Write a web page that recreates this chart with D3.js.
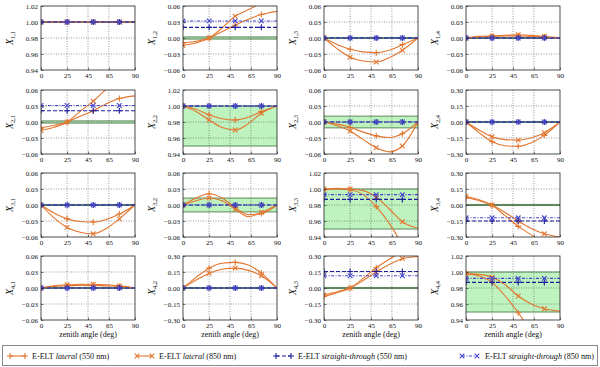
<!DOCTYPE html>
<html lang="en">
<head>
<meta charset="UTF-8">
<title>E-ELT Mueller matrix vs zenith angle</title>
<script src="https://cdn.jsdelivr.net/npm/d3@7"></script>
<style>
  body { margin: 0; background: #fff; }
  svg text { font-family: 'Liberation Serif', 'DejaVu Serif', serif; }
</style>
</head>
<body>
<svg id="chart" width="600" height="367"></svg>
<script>
const zenith = [0, 12.5, 25, 37.5, 50, 62.5, 75, 90];
const markerIdx = [0, 2, 4, 6];   // markers at 0, 25, 50, 75 deg
const xTicks = [0, 25, 45, 65, 90];

// matrix elements, row by row
const elements = ['1,1','1,2','1,3','1,4','2,1','2,2','2,3','2,4',
                  '3,1','3,2','3,3','3,4','4,1','4,2','4,3','4,4'];

const yRanges = [
  [0.94, 1.02], [-0.06, 0.06], [-0.06, 0.06], [-0.06, 0.06],
  [-0.06, 0.06], [0.94, 1.02], [-0.06, 0.06], [-0.30, 0.30],
  [-0.06, 0.06], [-0.06, 0.06], [0.94, 1.02], [-0.30, 0.30],
  [-0.06, 0.06], [-0.30, 0.30], [-0.30, 0.30], [0.94, 1.02]
];

// tolerance bands (green)
const bands = [
  [0.9995, 1.0005], [-0.002, 0.002], [-0.001, 0.001], [-0.001, 0.001],
  [-0.002, 0.002], [0.95, 1.0], [-0.011, 0.011], [-0.005, 0.005],
  [-0.001, 0.001], [-0.013, 0.013], [0.95, 1.0], [-0.005, 0.005],
  [-0.001, 0.001], [-0.005, 0.005], [-0.005, 0.005], [0.95, 1.0]
];

const lateral550 = [
  [1, 1, 1, 1, 1, 1, 1, 1],
  [-0.009, -0.006, 0.0, 0.012, 0.024, 0.035, 0.044, 0.05],
  [0, -0.012, -0.021, -0.026, -0.0275, -0.023, -0.0125, 0],
  [0, 0.002, 0.003, 0.004, 0.004, 0.003, 0.002, 0],
  [-0.011, -0.006, 0.0, 0.011, 0.021, 0.034, 0.044, 0.049],
  [1.0, 0.996, 0.989, 0.984, 0.9825, 0.986, 0.993, 1.0],
  [0, -0.004, -0.01, -0.019, -0.026, -0.029, -0.022, 0],
  [0, -0.10, -0.185, -0.222, -0.228, -0.195, -0.125, 0],
  [0, -0.015, -0.026, -0.031, -0.032, -0.027, -0.017, 0],
  [0, 0.013, 0.021, 0.013, -0.005, -0.018, -0.016, 0],
  [0.999, 1.0, 0.999, 0.993, 0.978, 0.957, 0.93, 0.89],
  [0.07, 0.04, -0.005, -0.10, -0.20, -0.28, -0.36, -0.40],
  [0, 0.003, 0.004, 0.005, 0.005, 0.004, 0.003, 0],
  [0, 0.10, 0.186, 0.232, 0.24, 0.215, 0.14, 0],
  [-0.08, -0.045, 0.0, 0.09, 0.19, 0.27, 0.34, 0.40],
  [0.998, 0.995, 0.987, 0.97, 0.949, 0.925, 0.90, 0.87]
];

const lateral850 = [
  [1, 1, 1, 1, 1, 1, 1, 1],
  [-0.014, -0.009, 0.0, 0.019, 0.041, 0.053, 0.065, 0.075],
  [0, -0.02, -0.036, -0.043, -0.045, -0.037, -0.023, 0],
  [0, 0.003, 0.004, 0.005, 0.006, 0.005, 0.003, 0],
  [-0.016, -0.01, 0.0, 0.02, 0.039, 0.061, 0.075, 0.082],
  [1.0, 0.993, 0.9825, 0.973, 0.970, 0.978, 0.991, 1.0],
  [0, -0.007, -0.017, -0.033, -0.048, -0.056, -0.045, 0],
  [0, -0.075, -0.138, -0.165, -0.17, -0.148, -0.10, 0],
  [0, -0.024, -0.042, -0.051, -0.054, -0.044, -0.026, 0],
  [0, 0.008, 0.013, 0.008, -0.008, -0.022, -0.014, 0],
  [1.0, 1.001, 1.0, 0.998, 0.99, 0.975, 0.959, 0.951],
  [0.08, 0.05, 0.0, -0.07, -0.15, -0.22, -0.27, -0.30],
  [0, 0.004, 0.006, 0.007, 0.007, 0.006, 0.004, 0],
  [0, 0.075, 0.137, 0.175, 0.186, 0.165, 0.114, 0],
  [-0.065, -0.035, 0.0, 0.07, 0.15, 0.22, 0.275, 0.295],
  [0.998, 0.997, 0.9935, 0.984, 0.97, 0.96, 0.954, 0.951]
];

// straight-through design is flat with zenith angle
const straight550 = [1, 0.02, 0, 0, 0.021, 1, 0, 0, 0, 0, 0.987, -0.15, 0, 0, 0.155, 0.987];
const straight850 = [1, 0.032, 0, 0, 0.031, 1, 0, 0, 0, 0, 0.993, -0.12, 0, 0, 0.115, 0.992];

const orange = '#e2762f';
const series = [
  { name: 'lateral', nm: 550, color: orange, dash: null, marker: 'plus', values: i => lateral550[i] },
  { name: 'lateral', nm: 850, color: orange, dash: null, marker: 'cross', values: i => lateral850[i] },
  { name: 'straight-through', nm: 550, color: '#1f1f9e', dash: '4,2', marker: 'plus', values: i => zenith.map(() => straight550[i]) },
  { name: 'straight-through', nm: 850, color: '#4545cc', dash: '3,1.5,1,1.5', marker: 'cross', values: i => zenith.map(() => straight850[i]) }
];

const svg = d3.select('#chart');
const colLeft = [41, 183, 324, 466];
const rowTop = [6, 90, 173, 256];
const pw = 94, ph = 64;
const serif = "'Liberation Serif', 'DejaVu Serif', serif";

const markerPath = {
  plus: 'M-3,0H3M0,-3V3',
  cross: 'M-2.3,-2.3L2.3,2.3M-2.3,2.3L2.3,-2.3'
};

const x = d3.scaleLinear().domain([0, 90]).range([0, pw]);
const fmt = d3.format('.2f');

elements.forEach((el, i) => {
  const r = Math.floor(i / 4), c = i % 4;
  const g = svg.append('g').attr('transform', `translate(${colLeft[c]},${rowTop[r]})`);
  const y = d3.scaleLinear().domain(yRanges[i]).range([ph, 0]);
  const yTicks = d3.range(5).map(k => yRanges[i][0] + k * (yRanges[i][1] - yRanges[i][0]) / 4);

  g.append('clipPath').attr('id', 'clip' + i)
    .append('rect').attr('width', pw).attr('height', ph);
  const plot = g.append('g').attr('clip-path', `url(#clip${i})`);

  // tolerance band
  plot.append('rect')
    .attr('x', 0).attr('width', pw)
    .attr('y', y(bands[i][1]))
    .attr('height', Math.max(y(bands[i][0]) - y(bands[i][1]), 0.5))
    .attr('fill', '#a8eea8').attr('fill-opacity', 0.75);
  bands[i].forEach(b => {
    plot.append('line').attr('x1', 0).attr('x2', pw)
      .attr('y1', y(b)).attr('y2', y(b))
      .attr('stroke', '#5b8a5b').attr('stroke-width', 1);
  });

  // grid
  xTicks.slice(1, -1).forEach(t => {
    plot.append('line').attr('x1', x(t)).attr('x2', x(t)).attr('y1', 0).attr('y2', ph)
      .attr('stroke', '#555').attr('stroke-width', 0.6).attr('stroke-dasharray', '1,1.5');
  });
  yTicks.slice(1, -1).forEach(t => {
    plot.append('line').attr('y1', y(t)).attr('y2', y(t)).attr('x1', 0).attr('x2', pw)
      .attr('stroke', '#555').attr('stroke-width', 0.6).attr('stroke-dasharray', '1,1.5');
  });

  const line = d3.line().x((d, k) => x(zenith[k])).y(d => y(d)).curve(d3.curveMonotoneX);

  series.forEach(s => {
    const vals = s.values(i);
    plot.append('path').datum(vals)
      .attr('d', line)
      .attr('fill', 'none')
      .attr('stroke', s.color)
      .attr('stroke-width', 1.1)
      .attr('stroke-dasharray', s.dash);
    plot.selectAll(null).data(markerIdx).enter().append('path')
      .attr('d', markerPath[s.marker])
      .attr('transform', k => `translate(${x(zenith[k])},${y(vals[k])})`)
      .attr('stroke', s.color).attr('stroke-width', 1.1).attr('fill', 'none');
  });

  // frame
  g.append('rect').attr('width', pw).attr('height', ph)
    .attr('fill', 'none').attr('stroke', '#222').attr('stroke-width', 0.8);

  // axes
  const xAxis = g.append('g').attr('transform', `translate(0,${ph})`)
    .call(d3.axisBottom(x).tickValues(xTicks).tickSize(-2.5).tickPadding(3).tickFormat(d3.format('d')));
  const yAxis = g.append('g')
    .call(d3.axisLeft(y).tickValues(yTicks).tickSize(-2.5).tickPadding(3).tickFormat(fmt));
  [xAxis, yAxis].forEach(a => {
    a.attr('font-family', serif);
    a.select('.domain').remove();
    a.selectAll('line').attr('stroke', '#222').attr('stroke-width', 0.6);
    a.selectAll('text').attr('font-size', 7).attr('fill', '#111');
  });

  // y label X_{r,c}
  const lab = g.append('text')
    .attr('transform', `translate(-28,${ph / 2}) rotate(-90)`)
    .attr('text-anchor', 'middle')
    .attr('font-size', 10).attr('fill', '#111');
  lab.append('tspan').attr('font-style', 'italic').text('X');
  lab.append('tspan').attr('font-size', 6.5).attr('dy', 2).text(el);

  if (r === 3) {
    g.append('text').attr('x', pw / 2).attr('y', ph + 17)
      .attr('text-anchor', 'middle').attr('font-size', 8).attr('fill', '#111')
      .text('zenith angle (deg)');
  }
});

// legend
const leg = svg.append('g');
leg.append('rect').attr('x', 2.5).attr('y', 345.5).attr('width', 595).attr('height', 20)
  .attr('fill', '#fff').attr('stroke', '#888').attr('stroke-width', 1);
const legX = [10, 137, 276, 462];      // handle starts
const legTextX = [32, 159, 298, 485];  // label starts
const legTexts = [];
series.forEach((s, k) => {
  const gx = legX[k], gy = 356;
  leg.append('line').attr('x1', gx).attr('x2', gx + 15).attr('y1', gy).attr('y2', gy)
    .attr('stroke', s.color).attr('stroke-width', 1.1).attr('stroke-dasharray', s.dash);
  [gx, gx + 15].forEach(px => {
    leg.append('path').attr('d', markerPath[s.marker]).attr('transform', `translate(${px},${gy})`)
      .attr('stroke', s.color).attr('stroke-width', 1.1).attr('fill', 'none');
  });
  const t = leg.append('text').attr('x', legTextX[k]).attr('y', gy + 3.3)
    .attr('font-size', 10).attr('fill', '#111');
  t.append('tspan').text('E-ELT ');
  t.append('tspan').attr('font-style', 'italic').text(s.name);
  t.append('tspan').text(` (${s.nm} nm)`);
  legTexts.push(t);
});
// size the labels so the last one ends just inside the box
const lastLen = legTexts[3].node().getComputedTextLength();
const fs = Math.min(10, 10 * (594 - legTextX[3]) / lastLen);
legTexts.forEach(t => t.attr('font-size', fs));
</script>
</body>
</html>
